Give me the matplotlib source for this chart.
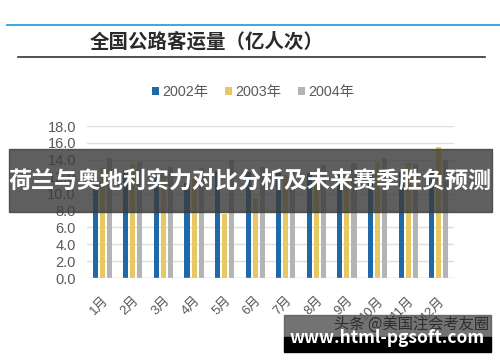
import matplotlib.pyplot as plt
import numpy as np
from matplotlib.patches import Rectangle

plt.rcParams['font.family'] = ['Noto Sans CJK SC', 'DejaVu Sans']

# monthly highway passenger volume (100 million trips)
months = ['1月', '2月', '3月', '4月', '5月', '6月', '7月', '8月', '9月', '10月', '11月', '12月']
v2002 = [11.0, 12.8, 12.0, 11.3, 12.7, 12.6, 12.4, 12.4, 12.2, 12.8, 12.5, 12.9]
v2003 = [13.0, 13.5, 12.9, 12.0, 7.6, 9.5, 12.2, 12.0, 12.3, 13.7, 13.6, 15.5]
v2004 = [14.2, 13.7, 13.2, 13.0, 14.0, 13.2, 12.9, 13.4, 13.6, 14.2, 13.5, 14.0]
series_names = ['2002年', '2003年', '2004年']
colors = ['#1f69a8', '#e8c865', '#b4b4b4']

fig = plt.figure(figsize=(5, 3.62), dpi=100)
W, H = 500, 362

def fx(px):
    return px / W

def fy(py):
    return 1 - py / H

latin = ['Liberation Sans', 'Noto Sans CJK SC']

# header lines + title
fig.add_artist(plt.Line2D([fx(7), fx(500)], [fy(24.5), fy(24.5)], color='#29a3e0', lw=1.3))
fig.add_artist(plt.Line2D([fx(18), fx(485)], [fy(57), fy(57)], color='#333333', lw=1.2))
fig.text(fx(90), fy(42), '全国公路客运量（亿人次）', fontsize=14, fontweight='bold',
         color='#2a2a2a', va='center', ha='left')

ax = fig.add_axes([fx(87), fy(278), fx(454) - fx(87), fy(126) - fy(278)])
x = np.arange(len(months))
w = 0.165
off = 0.23
for i, (vals, name, c) in enumerate(zip([v2002, v2003, v2004], series_names, colors)):
    ax.bar(x + (i - 1) * off, vals, width=w, color=c, label=name, zorder=3)

ax.set_xlim(-0.5, len(months) - 0.5)
ax.set_ylim(0, 18)
ax.set_yticks(np.arange(0, 18.1, 2))
ax.set_yticklabels([f'{v:.1f}' for v in np.arange(0, 18.1, 2)], fontsize=10.5, color='#595959',
                   family=latin)
ax.set_xticks(x)
ax.set_xticklabels(months, rotation=45, ha='right', rotation_mode='anchor', fontsize=9.5,
                   color='#595959', family=latin)
ax.tick_params(length=0, pad=8)
ax.tick_params(axis='x', pad=12)
ax.grid(axis='y', color='#dedede', lw=1, zorder=0)
for s in ax.spines.values():
    s.set_visible(False)
ax.axhline(0, color='#d0d0d0', lw=1, zorder=4)

leg = fig.legend(loc='center', bbox_to_anchor=(fx(253), fy(92)), ncol=3, frameon=False,
                 prop={'family': latin, 'size': 10.3}, handlelength=0.5, handleheight=0.5,
                 handletextpad=0.2, columnspacing=1.2)
for t in leg.get_texts():
    t.set_color('#595959')

# overlay banner
fig.add_artist(Rectangle((fx(9), fy(212)), fx(492) - fx(9), fy(149) - fy(212),
                         transform=fig.transFigure, color='#3c3c3c', alpha=0.82, zorder=10))
fig.text(fx(250), fy(181), '荷兰与奥地利实力对比分析及未来赛季胜负预测', fontsize=16.6, fontweight='bold',
         color='white', ha='center', va='center', zorder=11)

# bottom watermark
fig.add_artist(Rectangle((fx(284), fy(337)), fx(491) - fx(284), fy(315) - fy(337),
                         transform=fig.transFigure, color='#5a5a5a', alpha=0.85, zorder=10))
fig.add_artist(Rectangle((fx(284), fy(352)), fx(491) - fx(284), fy(337) - fy(352),
                         transform=fig.transFigure, color='black', zorder=10))
fig.text(fx(412), fy(324), '头条 @美国注会考友圈', fontsize=11, color='#2e2e2e',
         ha='center', va='center', zorder=11)
fig.text(fx(387), fy(338), 'www.html-pgsoft.com', fontsize=12.5, fontweight='bold',
         color='white', ha='center', va='center', zorder=12)

fig.savefig('out.png', dpi=100)
